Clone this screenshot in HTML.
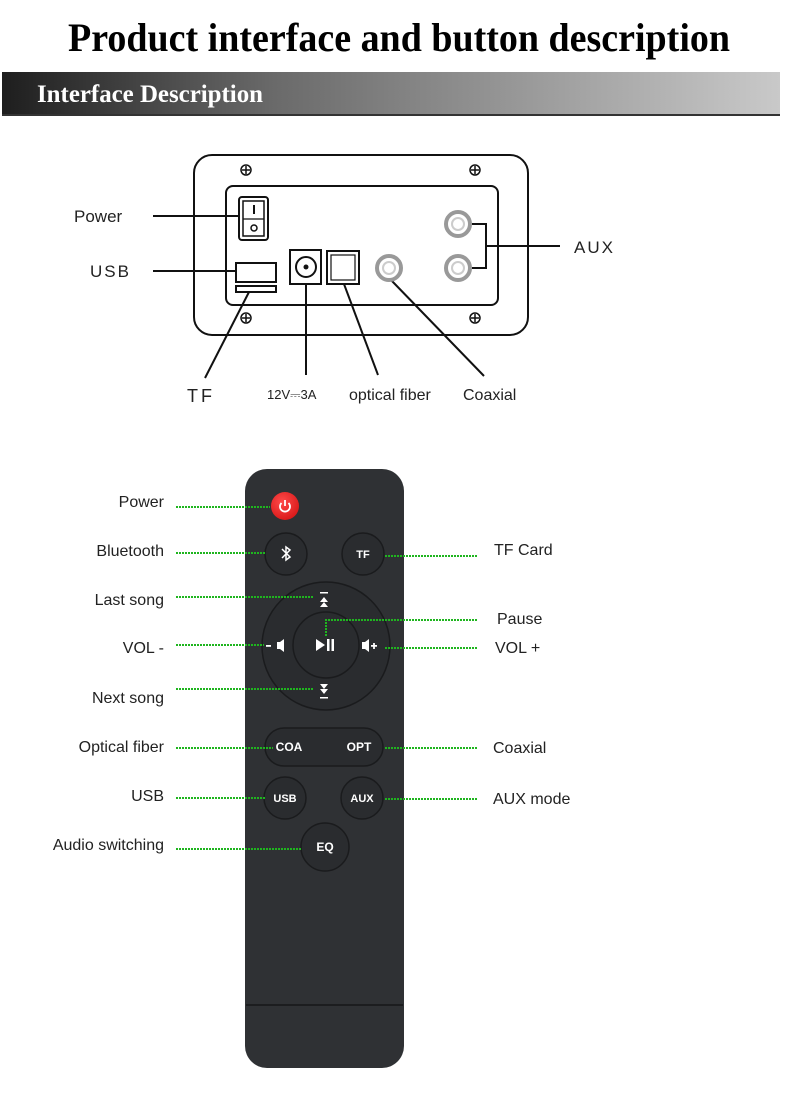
<!DOCTYPE html>
<html><head><meta charset="utf-8"><style>
html,body{margin:0;padding:0;background:#fff;}
svg{display:block;}
</style></head><body>
<svg width="790" height="1096" viewBox="0 0 790 1096" xmlns="http://www.w3.org/2000/svg">
<defs>
<linearGradient id="band" x1="0" x2="1" y1="0" y2="0">
<stop offset="0" stop-color="#1e1e1e"/><stop offset="0.35" stop-color="#6a6a6a"/><stop offset="1" stop-color="#c9c9c9"/>
</linearGradient>
<radialGradient id="red" cx="0.4" cy="0.35" r="0.7"><stop offset="0" stop-color="#ff4a4a"/><stop offset="1" stop-color="#d81818"/></radialGradient>
</defs>
<text x="68" y="51" textLength="662" lengthAdjust="spacingAndGlyphs" font-family="'Liberation Serif',serif" font-weight="bold" font-size="40" fill="#000">Product interface and button description</text>
<rect x="2" y="72" width="778" height="44" fill="url(#band)"/>
<rect x="2" y="114" width="778" height="2" fill="#333"/>
<text x="37" y="102" textLength="226" lengthAdjust="spacingAndGlyphs" font-family="'Liberation Serif',serif" font-weight="bold" font-size="25" fill="#fff">Interface Description</text>

<g fill="none" stroke="#111" stroke-width="2">
<rect x="194" y="155" width="334" height="180" rx="18"/>
<rect x="226" y="186" width="272" height="119" rx="7"/>
<rect x="239" y="197" width="29" height="43" rx="3"/>
<rect x="243" y="201" width="21" height="35" stroke-width="1.5"/>
<line x1="243" y1="219" x2="264" y2="219" stroke-width="1.2"/>
<line x1="254" y1="205" x2="254" y2="214"/>
<circle cx="254" cy="228" r="3" stroke-width="1.5"/>
<rect x="236" y="263" width="40" height="19"/>
<rect x="236" y="286" width="40" height="6"/>
<rect x="290" y="250" width="31" height="34"/>
<circle cx="306" cy="267" r="10"/>
<rect x="327" y="251" width="32" height="33"/>
<rect x="331" y="255" width="24" height="25" stroke-width="1.2"/>
<polyline points="472,224 486,224 486,268 472,268"/>
<line x1="486" y1="246" x2="560" y2="246"/>
<line x1="153" y1="216" x2="238" y2="216"/>
<line x1="153" y1="271" x2="236" y2="271"/>
<line x1="249" y1="292" x2="205" y2="378"/>
<line x1="306" y1="284" x2="306" y2="375"/>
<line x1="344" y1="284" x2="378" y2="375"/>
<line x1="391" y1="280" x2="484" y2="376"/>
</g>
<g fill="none" stroke="#999" stroke-width="4">
<circle cx="389" cy="268" r="12"/>
<circle cx="458" cy="224" r="12"/>
<circle cx="458" cy="268" r="12"/>
</g>
<g fill="none" stroke="#ccc" stroke-width="2">
<circle cx="389" cy="268" r="6"/><circle cx="458" cy="224" r="6"/><circle cx="458" cy="268" r="6"/>
</g>
<circle cx="306" cy="267" r="2.5" fill="#111"/>
<g stroke="#111" stroke-width="1.5" fill="none">
<circle cx="246" cy="170" r="5"/><circle cx="475" cy="170" r="5"/><circle cx="246" cy="318" r="5"/><circle cx="475" cy="318" r="5"/>
<path d="M242 170h8M246 166v8M471 170h8M475 166v8M242 318h8M246 314v8M471 318h8M475 314v8"/>
</g>
<g font-family="'Liberation Sans',sans-serif" fill="#222">
<text x="74" y="222" font-size="17">Power</text>
<text x="90" y="277" font-size="17" letter-spacing="2">USB</text>
<text x="574" y="253" font-size="17" letter-spacing="2">AUX</text>
<text x="187" y="402" font-size="18" letter-spacing="3">TF</text>
<text x="267" y="399" font-size="13">12V<tspan font-size="13">⎓</tspan>3A</text>
<text x="349" y="400" font-size="16">optical fiber</text>
<text x="463" y="400" font-size="16">Coaxial</text>
</g>

<rect x="245" y="469" width="159" height="599" rx="22" fill="#2f3134"/>
<line x1="246" y1="1005" x2="403" y2="1005" stroke="#1c1d1f" stroke-width="2"/>
<g fill="#2a2c2f" stroke="#1a1b1d" stroke-width="1.5">
<circle cx="286" cy="554" r="21"/><circle cx="363" cy="554" r="21"/>
<circle cx="326" cy="646" r="64"/><circle cx="326" cy="645" r="33"/>
<rect x="265" y="728" width="118" height="38" rx="19"/>
<circle cx="285" cy="798" r="21"/><circle cx="362" cy="798" r="21"/><circle cx="325" cy="847" r="24"/>
</g>
<circle cx="285" cy="506" r="14" fill="url(#red)"/>
<g fill="none" stroke="#fff" stroke-width="1.8"><path d="M281.5 503a5 5 0 1 0 7 0"/><line x1="285" y1="500" x2="285" y2="506"/></g>
<path d="M282 549l8 8-4 3v-13l4 3-8 8" fill="none" stroke="#fff" stroke-width="1.5"/>
<g font-family="'Liberation Sans',sans-serif" font-weight="bold" fill="#fff" font-size="11" text-anchor="middle">
<text x="363" y="558">TF</text>
<text x="289" y="751" font-size="12">COA</text>
<text x="359" y="751" font-size="12">OPT</text>
<text x="285" y="802">USB</text><text x="362" y="802">AUX</text><text x="325" y="851" font-size="12">EQ</text>
</g>
<g fill="#fff">
<path d="M316 639v12l9-6z"/><rect x="327" y="639" width="2.5" height="12"/><rect x="331.5" y="639" width="2.5" height="12"/>
<rect x="320" y="592" width="8" height="1.5"/><path d="M320 602h8l-4-5zM320 607h8l-4-5z"/>
<path d="M320 684h8l-4 5zM320 689h8l-4 5z"/><rect x="320" y="697" width="8" height="1.5"/>
<rect x="266" y="645" width="5" height="1.8"/><path d="M277 642h3v7h-3z"/><path d="M280 642l4-3v13l-4-3z"/>
<path d="M362 642h3v7h-3z"/><path d="M365 642l4-3v13l-4-3z"/><path d="M371 645h6v1.8h-6zM373.1 643h1.8v6h-1.8z"/>
</g>

<g stroke="#1fb51f" stroke-width="2" stroke-dasharray="2 1" fill="none">
<line x1="176" y1="507" x2="270" y2="507"/>
<line x1="176" y1="553" x2="265" y2="553"/>
<line x1="176" y1="597" x2="313" y2="597"/>
<line x1="176" y1="645" x2="264" y2="645"/>
<line x1="176" y1="689" x2="313" y2="689"/>
<line x1="176" y1="748" x2="273" y2="748"/>
<line x1="176" y1="798" x2="266" y2="798"/>
<line x1="176" y1="849" x2="302" y2="849"/>
<line x1="385" y1="556" x2="478" y2="556"/>
<polyline points="326,636 326,620 478,620"/>
<line x1="385" y1="648" x2="478" y2="648"/>
<line x1="385" y1="748" x2="478" y2="748"/>
<line x1="385" y1="799" x2="478" y2="799"/>
</g>
<g font-family="'Liberation Sans',sans-serif" fill="#222" font-size="16">
<g text-anchor="end">
<text x="164" y="507">Power</text>
<text x="164" y="556">Bluetooth</text>
<text x="164" y="605">Last song</text>
<text x="164" y="653">VOL -</text>
<text x="164" y="703">Next song</text>
<text x="164" y="752">Optical fiber</text>
<text x="164" y="801">USB</text>
<text x="164" y="850">Audio switching</text>
</g>
<text x="494" y="555">TF Card</text>
<text x="497" y="624">Pause</text>
<text x="495" y="653">VOL +</text>
<text x="493" y="753">Coaxial</text>
<text x="493" y="804">AUX mode</text>
</g>
</svg>
</body></html>
